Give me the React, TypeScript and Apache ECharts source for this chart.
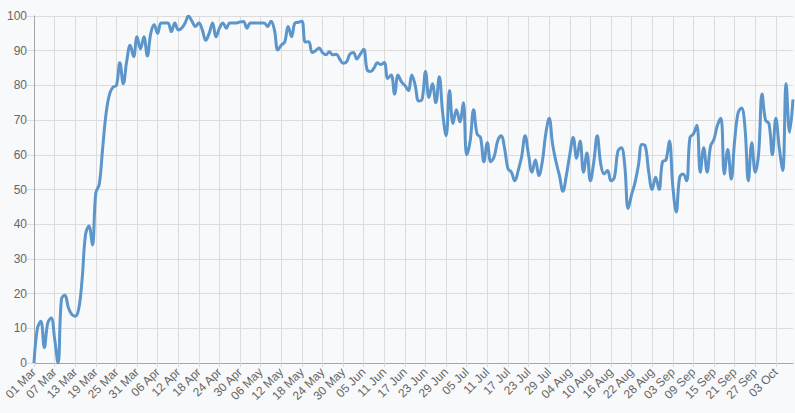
import React, { useEffect, useRef } from "react";
import * as echarts from "echarts";

const monthNames = ["Mar", "Apr", "May", "Jun", "Jul", "Aug", "Sep", "Oct"];
const monthDayCounts = [31, 30, 31, 30, 31, 31, 30, 8];

const marchValues = [0, 10, 12, 4.5, 11.5, 13, 7, 0, 18.5, 19.5, 16, 14, 13.5, 15.5, 24, 37, 39.5, 34, 49, 51.5, 62, 72, 77.5, 79.5, 80, 86.5, 80.5, 87, 91.6, 88.3, 94];
const aprilValues = [90.5, 94, 88.5, 95, 97.5, 95, 98, 98, 98, 95.5, 98, 96, 96.5, 98, 100, 98.5, 97, 98, 96, 93, 95, 98, 94, 96.5, 98, 96.5, 98, 98, 98, 98.3];
const mayValues = [98.4, 96.5, 98, 98, 98, 98, 98, 97, 98.5, 96, 90.2, 91.6, 92.5, 97, 94, 98, 98.2, 98.5, 92.5, 92.6, 89.5, 90, 90.8, 89.5, 88.8, 89.7, 88.8, 89, 87.6, 86.4, 86.8];
const juneValues = [89, 89.5, 87.6, 89, 90.4, 84.5, 84, 85, 86.5, 86, 86.6, 82, 83, 77.5, 83, 81, 80, 78.5, 83, 80, 75.5, 76, 84, 76.5, 80.5, 75, 82.5, 72, 65.5, 78.5];
const julyValues = [69, 73, 69.5, 75, 60, 64, 73, 66, 65, 58, 63.5, 58, 59.5, 64, 65.5, 62, 56, 55, 52.5, 55.5, 59.5, 65.5, 60, 55, 58.5, 54, 58, 66, 70.5, 63, 58];
const augustValues = [54, 49.5, 54, 60, 65, 59, 64, 55, 60.5, 52.5, 58, 65.5, 57.5, 54.5, 55.5, 52.5, 53.5, 61, 62, 57, 44.5, 48.5, 52, 57, 63, 62.5, 55, 50, 53.5, 50, 58];
const septemberValues = [58.5, 64, 51, 43.5, 53.5, 54.5, 52.5, 65, 66, 68.5, 55, 62, 55, 62.5, 64.5, 68.5, 70.5, 54.5, 61.5, 53, 64, 72, 73.5, 68, 52.5, 63.5, 55, 60.5, 77.5, 70];
const octoberValues = [69, 60, 70.5, 62, 55.5, 80.5, 66.5, 76];

const yTicks = { min: 0, max: 100, interval: 10 };

const categories: string[] = [];
monthNames.forEach((m, i) => {
  for (let d = 1; d <= monthDayCounts[i]; d++) {
    categories.push((d < 10 ? "0" : "") + d + " " + m);
  }
});

const values = [
  ...marchValues,
  ...aprilValues,
  ...mayValues,
  ...juneValues,
  ...julyValues,
  ...augustValues,
  ...septemberValues,
  ...octoberValues,
];

export default function App() {
  const ref = useRef<HTMLDivElement>(null);

  useEffect(() => {
    document.body.style.margin = "0";
    if (!ref.current) return;
    const chart = echarts.init(ref.current, undefined, { renderer: "svg" });
    chart.setOption({
      animation: false,
      backgroundColor: "#f8f9fb",
      grid: { left: 34, right: 2, top: 16, bottom: 50, containLabel: false },
      xAxis: {
        type: "category",
        data: categories,
        boundaryGap: false,
        axisLine: { show: true, lineStyle: { color: "#a6a6a6", width: 1 } },
        axisTick: { show: true, interval: 5, length: 4, lineStyle: { color: "#d8d8d8" } },
        axisLabel: {
          interval: 5,
          rotate: 45,
          color: "#666",
          fontSize: 12,
          fontFamily: "Liberation Sans, Arial, sans-serif",
          margin: 7,
        },
        splitLine: { show: true, interval: 5, lineStyle: { color: "#dcdcdc", width: 1 } },
      },
      yAxis: {
        type: "value",
        min: yTicks.min,
        max: yTicks.max,
        interval: yTicks.interval,
        axisLine: { show: true, lineStyle: { color: "#a6a6a6", width: 1 } },
        axisTick: { show: true, length: 7, lineStyle: { color: "#dcdcdc" } },
        axisLabel: {
          color: "#666",
          fontSize: 12,
          fontFamily: "Liberation Sans, Arial, sans-serif",
          margin: 7,
        },
        splitLine: { show: true, lineStyle: { color: "#dcdcdc", width: 1 } },
      },
      series: [
        {
          type: "line",
          data: values,
          smooth: 0.4,
          showSymbol: false,
          symbol: "none",
          lineStyle: { color: "#5b95ca", width: 3 },
          itemStyle: { color: "#5b95ca" },
        },
      ],
    });
    return () => chart.dispose();
  }, []);

  return <div ref={ref} style={{ width: 795, height: 413 }} />;
}
